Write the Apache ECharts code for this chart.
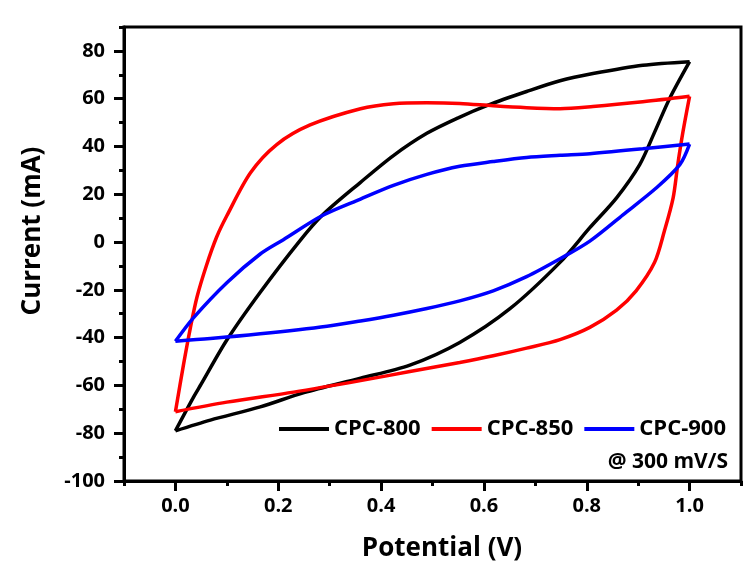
<!DOCTYPE html>
<html>
<head>
<meta charset="utf-8">
<script src="https://cdn.jsdelivr.net/npm/echarts@6/dist/echarts.min.js"></script>
<style>
  html, body { margin: 0; padding: 0; background: #fff; }
  #cvChart { width: 750px; height: 565px; }
</style>
</head>
<body>
<div id="cvChart"></div>
<script>
// CV loops at 300 mV/S (potential V, current mA)
// each loop is split into its upper and lower branch
const black800UpV = [0, 0.035, 0.05, 0.1, 0.165, 0.24, 0.287, 0.36, 0.424, 0.489, 0.55, 0.608, 0.683, 0.748, 0.812, 0.909, 1.0]
const black800UpI = [-79, -65, -59.5, -41, -21, 0, 11.5, 25, 36.2, 45.5, 52, 57.3, 63, 67.5, 70.5, 74, 75.5]
const black800DownV = [1.0, 0.961, 0.932, 0.903, 0.858, 0.806, 0.748, 0.65, 0.553, 0.456, 0.36, 0.25, 0.165, 0.068, 0]
const black800DownI = [75.5, 60, 46, 32.4, 18.5, 6, -8.5, -28, -42, -51.5, -57, -63, -69, -74.5, -79]

const red850UpV = [0, 0.016, 0.029, 0.042, 0.06, 0.08, 0.1, 0.146, 0.197, 0.262, 0.36, 0.424, 0.489, 0.553, 0.618, 0.683, 0.748, 0.812, 0.909, 1.0]
const red850UpI = [-71, -51, -36, -23, -10, 2, 11, 29, 40.8, 49, 55.8, 57.9, 58.3, 58, 57, 56.2, 55.8, 56.7, 58.7, 61]
const red850DownV = [1.0, 0.987, 0.977, 0.968, 0.951, 0.932, 0.896, 0.858, 0.806, 0.748, 0.683, 0.618, 0.553, 0.456, 0.36, 0.23, 0.1, 0]
const red850DownI = [61, 46, 32.4, 18.5, 4.6, -8.5, -20.4, -28.5, -35.7, -40.8, -44.4, -47.6, -50.4, -54.2, -58, -62.8, -67, -71]

const blue900UpV = [0, 0.035, 0.1, 0.165, 0.21, 0.285, 0.36, 0.424, 0.489, 0.553, 0.618, 0.683, 0.748, 0.806, 0.909, 1.0]
const blue900UpI = [-41.5, -31.7, -17, -5, 1, 11, 18, 23.7, 28.3, 31.7, 33.7, 35.4, 36.3, 37, 39, 41]
const blue900DownV = [1.0, 0.981, 0.935, 0.871, 0.806, 0.748, 0.683, 0.618, 0.553, 0.489, 0.424, 0.36, 0.295, 0.165, 0.068, 0]
const blue900DownI = [41, 32.4, 22.6, 11.5, 0.4, -7, -14.5, -20.4, -24.6, -27.8, -30.6, -33, -35.2, -38.4, -40.4, -41.5]

const xMajorTicks = [0, 0.2, 0.4, 0.6, 0.8, 1.0]
const xMinorTicks = [-0.1, 0.1, 0.3, 0.5, 0.7, 0.9, 1.1]
const yMajorTicks = [-100, -80, -60, -40, -20, 0, 20, 40, 60, 80]
const yMinorTicks = [-90, -70, -50, -30, -10, 10, 30, 50, 70, 90]

const seriesNames = ['CPC-800', 'CPC-850', 'CPC-900']
const seriesColors = ['#000000', '#ff0000', '#0000ff']

const FONT = '"Open Sans", "DejaVu Sans", sans-serif'

function pairs(xs, ys) {
  return xs.map((x, i) => [x, ys[i]])
}

const branches = [
  [0, black800UpV, black800UpI], [0, black800DownV, black800DownI],
  [1, red850UpV, red850UpI], [1, red850DownV, red850DownI],
  [2, blue900UpV, blue900UpI], [2, blue900DownV, blue900DownI]
]

// an axis that only draws a set of ticks (no line, no labels)
function tickAxis(min, max, pos, values, len) {
  return {
    type: 'value',
    min: min,
    max: max,
    position: pos,
    axisLine: { show: false, onZero: false },
    axisTick: { show: true, inside: false, length: len, lineStyle: { width: 3, color: '#000' }, customValues: values },
    axisLabel: { show: false },
    splitLine: { show: false }
  }
}

const chart = echarts.init(document.getElementById('cvChart'))

chart.setOption({
  backgroundColor: '#fff',
  animation: false,
  grid: {
    left: 124,
    right: 9,
    top: 27,
    bottom: 84,
    show: true,
    borderColor: '#000',
    borderWidth: 3,
    backgroundColor: 'transparent'
  },
  xAxis: [
    {
      type: 'value',
      min: -0.1,
      max: 1.1,
      position: 'bottom',
      axisLine: { show: true, onZero: false, lineStyle: { color: '#000', width: 3 } },
      axisTick: { show: false },
      axisLabel: {
        customValues: xMajorTicks,
        margin: 15,
        color: '#000',
        fontSize: 20,
        fontWeight: 'bold',
        fontFamily: FONT,
        formatter: (v) => v.toFixed(1)
      },
      splitLine: { show: false }
    },
    tickAxis(-0.1, 1.1, 'bottom', xMajorTicks, 10),
    tickAxis(-0.1, 1.1, 'bottom', xMinorTicks, 5)
  ],
  yAxis: [
    {
      type: 'value',
      min: -100,
      max: 90,
      position: 'left',
      axisLine: { show: true, onZero: false, lineStyle: { color: '#000', width: 3 } },
      axisTick: { show: false },
      axisLabel: {
        customValues: yMajorTicks,
        margin: 19,
        color: '#000',
        fontSize: 20,
        fontWeight: 'bold',
        fontFamily: FONT
      },
      splitLine: { show: false }
    },
    tickAxis(-100, 90, 'left', yMajorTicks, 10),
    tickAxis(-100, 90, 'left', yMinorTicks, 5)
  ],
  legend: {
    data: seriesNames,
    right: 19,
    top: 413,
    icon: 'rect',
    itemWidth: 50,
    itemHeight: 4,
    itemGap: 11,
    textStyle: { color: '#000', fontSize: 22, fontWeight: 'bold', fontFamily: FONT }
  },
  graphic: [
    {
      type: 'text',
      x: 728,
      y: 462,
      style: {
        text: '@ 300 mV/S',
        align: 'right',
        verticalAlign: 'middle',
        fill: '#000',
        font: 'bold 21px ' + FONT
      }
    },
    {
      type: 'text',
      x: 442,
      y: 549,
      style: {
        text: 'Potential (V)',
        align: 'center',
        verticalAlign: 'middle',
        fill: '#000',
        font: 'bold 26px ' + FONT
      }
    },
    {
      type: 'text',
      x: 33,
      y: 231,
      rotation: Math.PI / 2,
      style: {
        text: 'Current (mA)',
        align: 'center',
        verticalAlign: 'middle',
        fill: '#000',
        font: 'bold 26px ' + FONT
      }
    }
  ],
  series: branches.map(([k, xs, ys]) => ({
    name: seriesNames[k],
    type: 'line',
    xAxisIndex: 0,
    yAxisIndex: 0,
    data: pairs(xs, ys),
    showSymbol: false,
    symbol: 'none',
    smooth: 0.3,
    color: seriesColors[k],
    lineStyle: { color: seriesColors[k], width: 3.5 },
    z: 2 + k
  }))
})
</script>
</body>
</html>
